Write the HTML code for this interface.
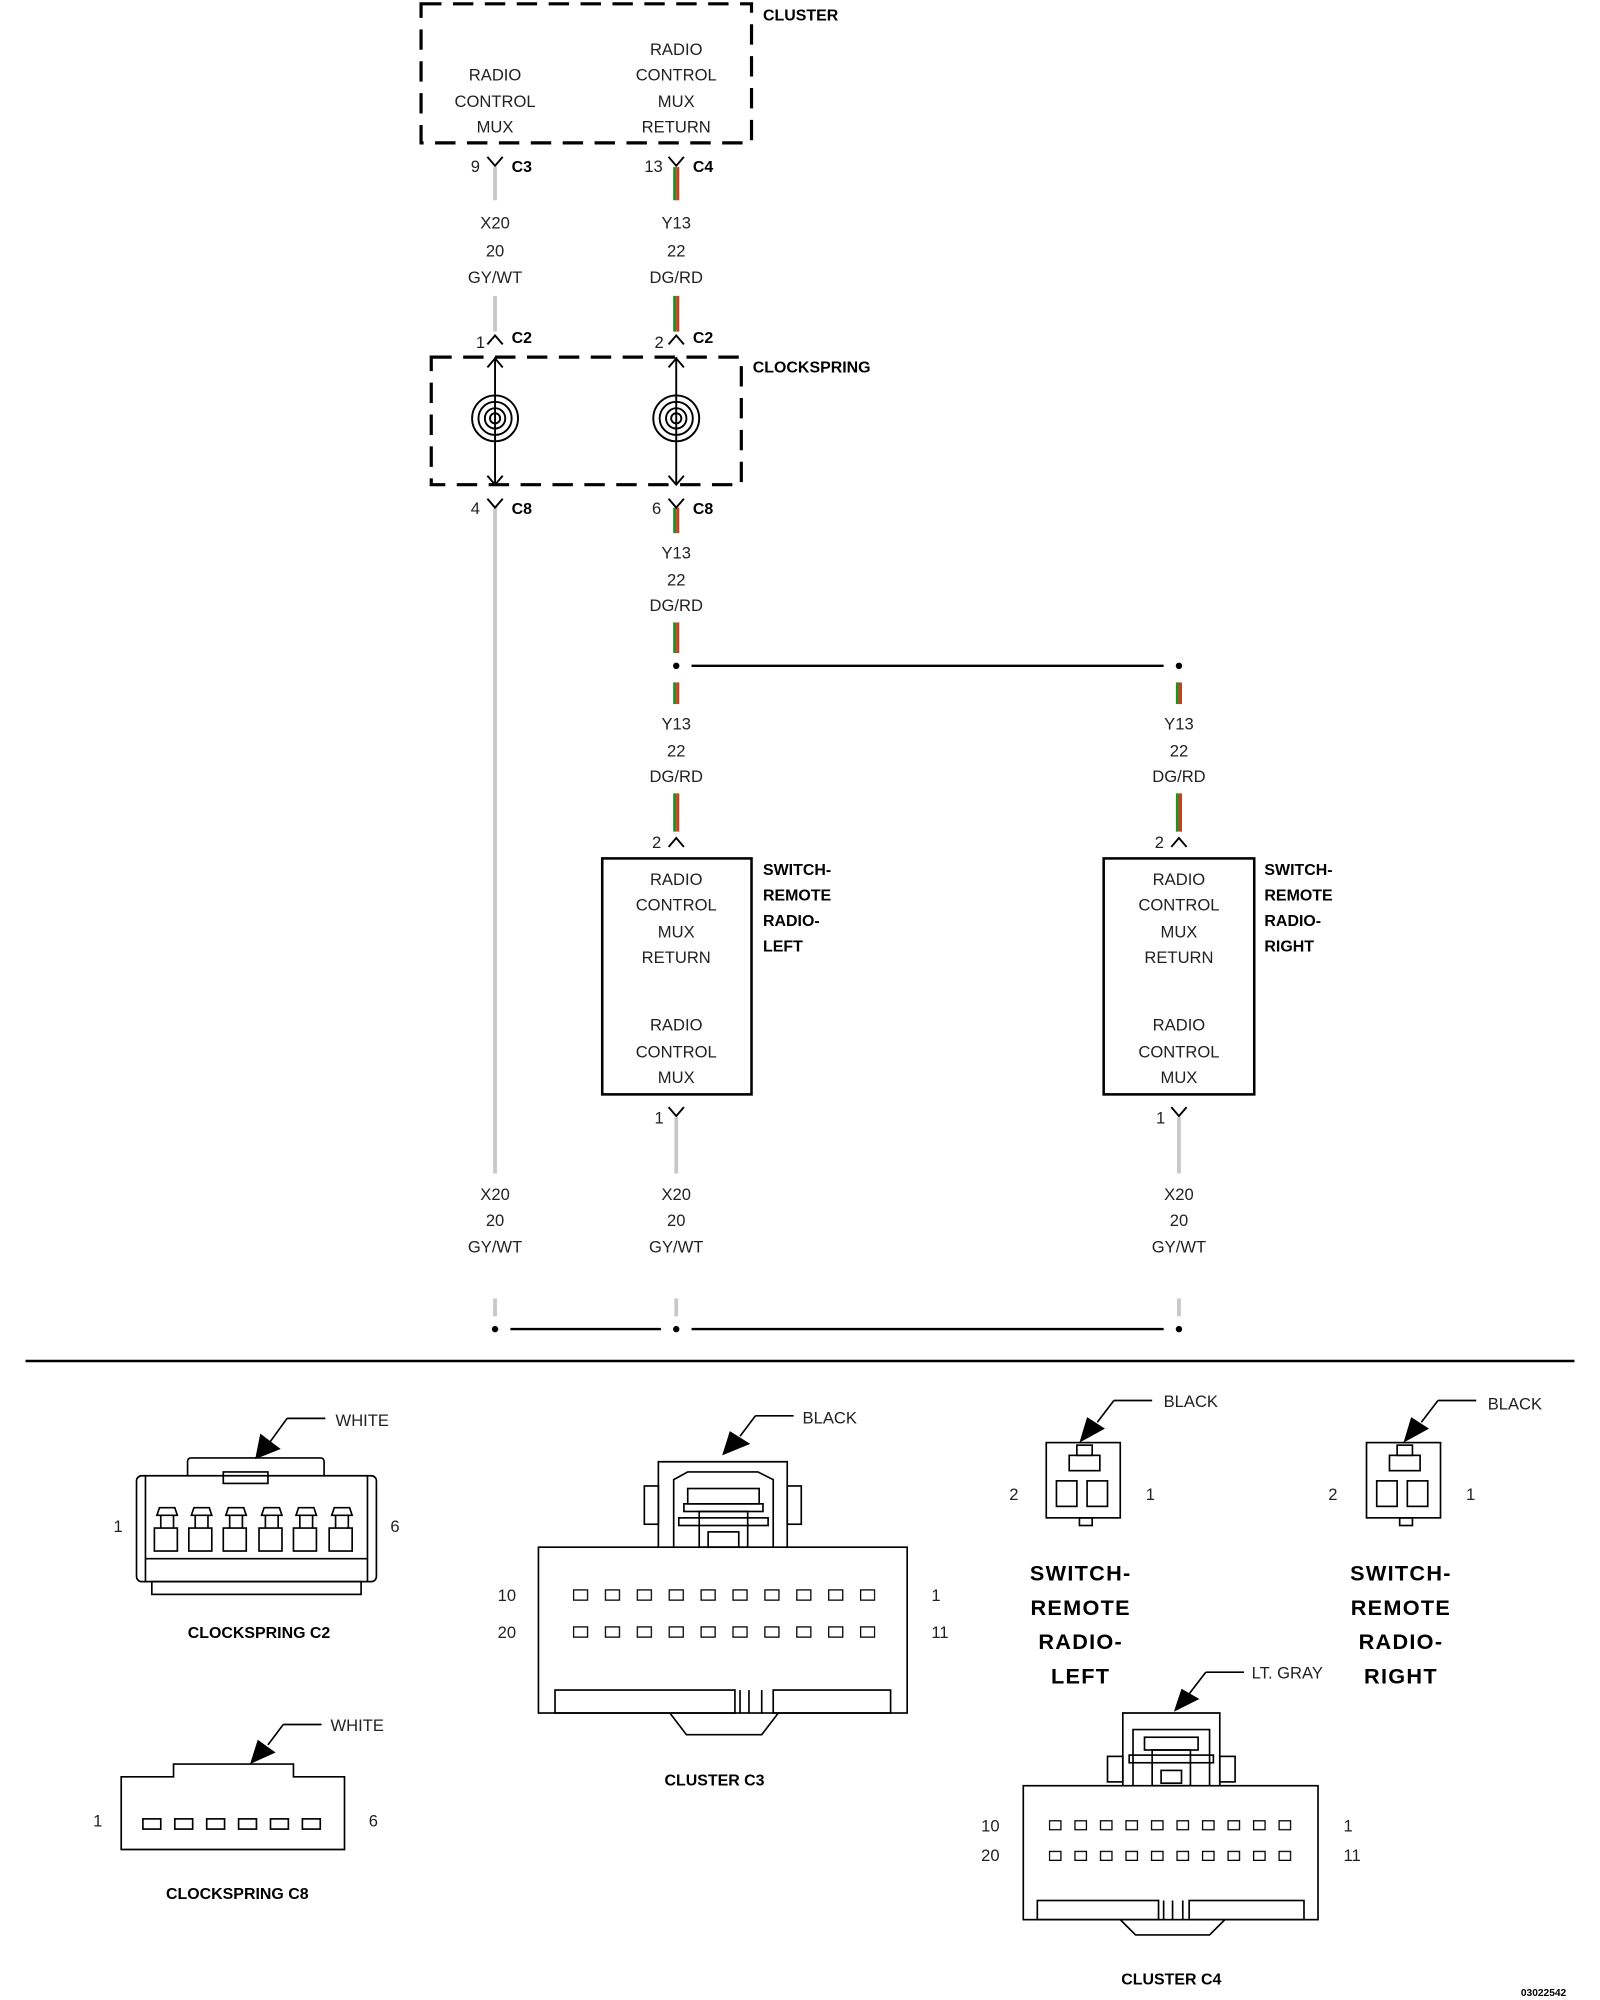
<!DOCTYPE html>
<html><head><meta charset="utf-8"><style>
html,body{margin:0;padding:0;background:#fff;}
svg{display:block;}
text{font-family:"Liberation Sans",sans-serif;font-size:13px;fill:#222;}
.b{font-weight:bold;fill:#000;font-size:12.5px;}
.t{font-weight:bold;fill:#000;font-size:17px;letter-spacing:1px;}
.c{text-anchor:middle;}
</style></head><body>
<svg width="1600" height="2000" viewBox="0 0 1254 1568" preserveAspectRatio="none" xmlns="http://www.w3.org/2000/svg">
<defs>
<pattern id="p3a" x="449" y="1246" width="25" height="9" patternUnits="userSpaceOnUse"><rect x="0.5" y="0.5" width="11" height="8" fill="none" stroke="#000" stroke-width="1"/></pattern>
<pattern id="p3b" x="449" y="1275" width="25" height="9" patternUnits="userSpaceOnUse"><rect x="0.5" y="0.5" width="11" height="8" fill="none" stroke="#000" stroke-width="1"/></pattern>
<pattern id="p4a" x="822" y="1427" width="20" height="8" patternUnits="userSpaceOnUse"><rect x="0.5" y="0.5" width="9" height="7" fill="none" stroke="#000" stroke-width="1"/></pattern>
<pattern id="p4b" x="822" y="1451" width="20" height="8" patternUnits="userSpaceOnUse"><rect x="0.5" y="0.5" width="9" height="7" fill="none" stroke="#000" stroke-width="1"/></pattern>
</defs>
<rect width="1254" height="1568" fill="#fff"/>
<g fill="none" stroke="#000" stroke-width="2.5" stroke-dasharray="16,9">
<rect x="330" y="3" width="259" height="109"/>
<rect x="338" y="280" width="243" height="100"/>
</g>
<text class="b" x="598" y="16">CLUSTER</text>
<text class="b" x="590" y="292">CLOCKSPRING</text>
<g class="c">
<text x="388" y="63" class="c">RADIO</text><text x="388" y="84" class="c">CONTROL</text><text x="388" y="104" class="c">MUX</text>
<text x="530" y="43" class="c">RADIO</text><text x="530" y="63" class="c">CONTROL</text><text x="530" y="84" class="c">MUX</text><text x="530" y="104" class="c">RETURN</text>
</g>
<g stroke="#c8c8c8" stroke-width="3">
<line x1="388" y1="131" x2="388" y2="157"/><line x1="388" y1="232" x2="388" y2="260"/>
<line x1="388" y1="398" x2="388" y2="920"/><line x1="388" y1="1018" x2="388" y2="1032"/>
<line x1="530" y1="876" x2="530" y2="920"/><line x1="530" y1="1018" x2="530" y2="1032"/>
<line x1="924" y1="876" x2="924" y2="920"/><line x1="924" y1="1018" x2="924" y2="1032"/>
</g>
<g stroke-width="2.4">
<g stroke="#2a8a2a"><line x1="528.8" y1="131" x2="528.8" y2="157"/><line x1="528.8" y1="232" x2="528.8" y2="260"/><line x1="528.8" y1="398" x2="528.8" y2="418"/><line x1="528.8" y1="488" x2="528.8" y2="512"/><line x1="528.8" y1="535" x2="528.8" y2="552"/><line x1="528.8" y1="622" x2="528.8" y2="652"/>
<line x1="922.8" y1="535" x2="922.8" y2="552"/><line x1="922.8" y1="622" x2="922.8" y2="652"/></g>
<g stroke="#c8401a"><line x1="531.2" y1="131" x2="531.2" y2="157"/><line x1="531.2" y1="232" x2="531.2" y2="260"/><line x1="531.2" y1="398" x2="531.2" y2="418"/><line x1="531.2" y1="488" x2="531.2" y2="512"/><line x1="531.2" y1="535" x2="531.2" y2="552"/><line x1="531.2" y1="622" x2="531.2" y2="652"/>
<line x1="925.2" y1="535" x2="925.2" y2="552"/><line x1="925.2" y1="622" x2="925.2" y2="652"/></g>
</g>
<g fill="none" stroke="#000" stroke-width="1.5">
<path d="M382 123 L388 130 L394 123"/><path d="M524 123 L530 130 L536 123"/>
<path d="M382 270 L388 263 L394 270"/><path d="M524 270 L530 263 L536 270"/>
<path d="M382 391 L388 398 L394 391"/><path d="M524 391 L530 398 L536 391"/>
<path d="M524 664 L530 657 L536 664"/><path d="M918 664 L924 657 L930 664"/>
<path d="M524 868 L530 875 L536 868"/><path d="M918 868 L924 875 L930 868"/>
<line x1="388" y1="280" x2="388" y2="380"/><line x1="530" y1="280" x2="530" y2="380"/>
<path d="M382 288 L388 281 L394 288"/><path d="M524 288 L530 281 L536 288"/>
<path d="M382 373 L388 380 L394 373"/><path d="M524 373 L530 380 L536 373"/>
<circle cx="388" cy="328" r="18"/><circle cx="388" cy="328" r="13"/><circle cx="388" cy="328" r="8"/><circle cx="388" cy="328" r="4"/>
<circle cx="530" cy="328" r="18"/><circle cx="530" cy="328" r="13"/><circle cx="530" cy="328" r="8"/><circle cx="530" cy="328" r="4"/>
</g>
<g stroke="#000" stroke-width="1.8">
<line x1="542" y1="522" x2="912" y2="522"/>
<line x1="400" y1="1042" x2="518" y2="1042"/><line x1="542" y1="1042" x2="912" y2="1042"/>
<line x1="20" y1="1067" x2="1234" y2="1067" stroke-width="2"/>
</g>
<g fill="#000"><circle cx="530" cy="522" r="2.5"/><circle cx="924" cy="522" r="2.5"/><circle cx="388" cy="1042" r="2.5"/><circle cx="530" cy="1042" r="2.5"/><circle cx="924" cy="1042" r="2.5"/></g>
<text x="369" y="135">9</text><text class="b" x="401" y="135">C3</text>
<text x="505" y="135">13</text><text class="b" x="543" y="135">C4</text>
<text x="373" y="273">1</text><text class="b" x="401" y="269">C2</text>
<text x="513" y="273">2</text><text class="b" x="543" y="269">C2</text>
<text x="369" y="403">4</text><text class="b" x="401" y="403">C8</text>
<text x="511" y="403">6</text><text class="b" x="543" y="403">C8</text>
<text x="511" y="665">2</text><text x="905" y="665">2</text>
<text x="513" y="881">1</text><text x="906" y="881">1</text>
<g>
<text class="c" x="388" y="179">X20</text><text class="c" x="388" y="201">20</text><text class="c" x="388" y="222">GY/WT</text>
<text class="c" x="530" y="179">Y13</text><text class="c" x="530" y="201">22</text><text class="c" x="530" y="222">DG/RD</text>
<text class="c" x="530" y="438">Y13</text><text class="c" x="530" y="459">22</text><text class="c" x="530" y="479">DG/RD</text>
<text class="c" x="530" y="572">Y13</text><text class="c" x="530" y="593">22</text><text class="c" x="530" y="613">DG/RD</text>
<text class="c" x="924" y="572">Y13</text><text class="c" x="924" y="593">22</text><text class="c" x="924" y="613">DG/RD</text>
<text class="c" x="388" y="941">X20</text><text class="c" x="388" y="961">20</text><text class="c" x="388" y="982">GY/WT</text>
<text class="c" x="530" y="941">X20</text><text class="c" x="530" y="961">20</text><text class="c" x="530" y="982">GY/WT</text>
<text class="c" x="924" y="941">X20</text><text class="c" x="924" y="961">20</text><text class="c" x="924" y="982">GY/WT</text>
</g>
<rect x="472" y="673" width="117" height="185" fill="none" stroke="#000" stroke-width="2"/>
<rect x="865" y="673" width="118" height="185" fill="none" stroke="#000" stroke-width="2"/>
<g>
<text class="c" x="530" y="694">RADIO</text><text class="c" x="530" y="714">CONTROL</text><text class="c" x="530" y="735">MUX</text><text class="c" x="530" y="755">RETURN</text>
<text class="c" x="530" y="808">RADIO</text><text class="c" x="530" y="829">CONTROL</text><text class="c" x="530" y="849">MUX</text>
<text class="c" x="924" y="694">RADIO</text><text class="c" x="924" y="714">CONTROL</text><text class="c" x="924" y="735">MUX</text><text class="c" x="924" y="755">RETURN</text>
<text class="c" x="924" y="808">RADIO</text><text class="c" x="924" y="829">CONTROL</text><text class="c" x="924" y="849">MUX</text>
</g>
<text class="b" x="598" y="686">SWITCH-</text><text class="b" x="598" y="706">REMOTE</text><text class="b" x="598" y="726">RADIO-</text><text class="b" x="598" y="746">LEFT</text>
<text class="b" x="991" y="686">SWITCH-</text><text class="b" x="991" y="706">REMOTE</text><text class="b" x="991" y="726">RADIO-</text><text class="b" x="991" y="746">RIGHT</text>

<g fill="none" stroke="#000" stroke-width="1.3">
<path d="M147 1157 L147 1146 Q147 1143 150 1143 L251 1143 Q254 1143 254 1146 L254 1157"/>
<rect x="107" y="1157" width="188" height="83" rx="4"/>
<line x1="114" y1="1157" x2="114" y2="1240"/><line x1="288" y1="1157" x2="288" y2="1240"/>
<rect x="175" y="1154" width="35" height="9"/>
<rect x="119" y="1240" width="164" height="10"/>
<line x1="114" y1="1222" x2="288" y2="1222"/>
<rect x="121" y="1198" width="18" height="18"/><rect x="148" y="1198" width="18" height="18"/><rect x="175" y="1198" width="18" height="18"/><rect x="203" y="1198" width="18" height="18"/><rect x="230" y="1198" width="18" height="18"/><rect x="258" y="1198" width="18" height="18"/>
<path d="M123 1188 L125 1182 L137 1182 L139 1188 Z M126 1188 V1198 M136 1188 V1198"/>
<path d="M150 1188 L152 1182 L164 1182 L166 1188 Z M153 1188 V1198 M163 1188 V1198"/>
<path d="M177 1188 L179 1182 L191 1182 L193 1188 Z M180 1188 V1198 M190 1188 V1198"/>
<path d="M205 1188 L207 1182 L219 1182 L221 1188 Z M208 1188 V1198 M218 1188 V1198"/>
<path d="M232 1188 L234 1182 L246 1182 L248 1188 Z M235 1188 V1198 M245 1188 V1198"/>
<path d="M260 1188 L262 1182 L274 1182 L276 1188 Z M263 1188 V1198 M273 1188 V1198"/>
<path d="M225 1112 L255 1112 M225 1112 L212 1130"/>
<path d="M95 1393 L136 1393 L136 1383 L230 1383 L230 1393 L270 1393 L270 1450 L95 1450 Z"/>
<rect x="112" y="1426" width="14" height="8"/><rect x="137" y="1426" width="14" height="8"/><rect x="162" y="1426" width="14" height="8"/><rect x="187" y="1426" width="14" height="8"/><rect x="212" y="1426" width="14" height="8"/><rect x="237" y="1426" width="14" height="8"/>
<path d="M222 1352 L252 1352 M222 1352 L210 1368"/>
<rect x="422" y="1213" width="289" height="130"/>
<rect x="435" y="1325" width="141" height="18"/><rect x="606" y="1325" width="92" height="18"/>
<line x1="580" y1="1325" x2="580" y2="1343"/><line x1="587" y1="1325" x2="587" y2="1343"/><line x1="597" y1="1325" x2="597" y2="1343"/>
<path d="M525 1343 L538 1360 L597 1360 L610 1343"/>
<path d="M516 1213 L516 1146 L617 1146 L617 1213"/>
<path d="M528 1213 L528 1160 L539 1154 L594 1154 L606 1160 L606 1213"/>
<rect x="505" y="1165" width="11" height="30"/><rect x="617" y="1165" width="11" height="30"/>
<rect x="539" y="1167" width="56" height="12"/><rect x="536" y="1179" width="62" height="6"/>
<rect x="548" y="1185" width="38" height="28"/><rect x="555" y="1201" width="24" height="12"/>
<rect x="532" y="1190" width="70" height="6"/>
<path d="M592 1110 L622 1110 M592 1110 L580 1126"/>
<rect x="820" y="1131" width="58" height="59"/><rect x="846" y="1190" width="10" height="6"/>
<rect x="828" y="1161" width="16" height="20"/><rect x="852" y="1161" width="16" height="20"/>
<rect x="838" y="1141" width="24" height="12"/><rect x="844" y="1133" width="12" height="8"/>
<path d="M873 1098 L903 1098 M873 1098 L860 1115"/>
<rect x="1071" y="1131" width="58" height="59"/><rect x="1097" y="1190" width="10" height="6"/>
<rect x="1079" y="1161" width="16" height="20"/><rect x="1103" y="1161" width="16" height="20"/>
<rect x="1089" y="1141" width="24" height="12"/><rect x="1095" y="1133" width="12" height="8"/>
<path d="M1127 1098 L1157 1098 M1127 1098 L1114 1115"/>
<rect x="802" y="1400" width="231" height="105"/>
<rect x="813" y="1490" width="95" height="15"/><rect x="932" y="1490" width="90" height="15"/>
<line x1="912" y1="1490" x2="912" y2="1505"/><line x1="919" y1="1490" x2="919" y2="1505"/><line x1="927" y1="1490" x2="927" y2="1505"/>
<path d="M878 1505 L890 1517 L948 1517 L960 1505"/>
<path d="M880 1400 L880 1343 L956 1343 L956 1400"/>
<path d="M888 1400 L888 1356 L948 1356 L948 1400"/>
<rect x="868" y="1377" width="12" height="20"/><rect x="956" y="1377" width="12" height="20"/>
<rect x="897" y="1362" width="42" height="10"/><rect x="903" y="1372" width="30" height="28"/><rect x="910" y="1388" width="16" height="10"/>
<rect x="885" y="1376" width="66" height="6"/>
<path d="M945 1311 L975 1311 M945 1311 L932 1328"/>
</g>
<rect x="449" y="1246" width="237" height="9" fill="url(#p3a)"/>
<rect x="449" y="1275" width="237" height="9" fill="url(#p3b)"/>
<rect x="822" y="1427" width="191" height="8" fill="url(#p4a)"/>
<rect x="822" y="1451" width="191" height="8" fill="url(#p4b)"/>
<g fill="#000">
<path d="M204 1124 L220 1136 L200 1144 Z"/>
<path d="M202 1364 L216 1374 L196 1383 Z"/>
<path d="M572 1122 L588 1132 L566 1141 Z"/>
<path d="M852 1111 L866 1120 L846 1131 Z"/>
<path d="M1106 1111 L1120 1120 L1100 1131 Z"/>
<path d="M926 1324 L940 1332 L920 1342 Z"/>
</g>
<text x="263" y="1118">WHITE</text>
<text x="259" y="1357">WHITE</text>
<text x="629" y="1116">BLACK</text>
<text x="912" y="1103">BLACK</text>
<text x="1166" y="1105">BLACK</text>
<text x="981" y="1316">LT. GRAY</text>
<text x="89" y="1201">1</text><text x="306" y="1201">6</text>
<text x="73" y="1432">1</text><text x="289" y="1432">6</text>
<text x="390" y="1255">10</text><text x="390" y="1284">20</text><text x="730" y="1255">1</text><text x="730" y="1284">11</text>
<text x="791" y="1176">2</text><text x="898" y="1176">1</text>
<text x="1041" y="1176">2</text><text x="1149" y="1176">1</text>
<text x="769" y="1436">10</text><text x="769" y="1459">20</text><text x="1053" y="1436">1</text><text x="1053" y="1459">11</text>
<text class="b c" x="203" y="1284">CLOCKSPRING C2</text>
<text class="b c" x="186" y="1489">CLOCKSPRING C8</text>
<text class="b c" x="560" y="1400">CLUSTER C3</text>
<text class="b c" x="918" y="1556">CLUSTER C4</text>
<text class="t c" x="847" y="1239">SWITCH-</text><text class="t c" x="847" y="1266">REMOTE</text><text class="t c" x="847" y="1293">RADIO-</text><text class="t c" x="847" y="1320">LEFT</text>
<text class="t c" x="1098" y="1239">SWITCH-</text><text class="t c" x="1098" y="1266">REMOTE</text><text class="t c" x="1098" y="1293">RADIO-</text><text class="t c" x="1098" y="1320">RIGHT</text>
<text class="b" x="1192" y="1565" style="font-size:8px">03022542</text>
</svg>
</body></html>
